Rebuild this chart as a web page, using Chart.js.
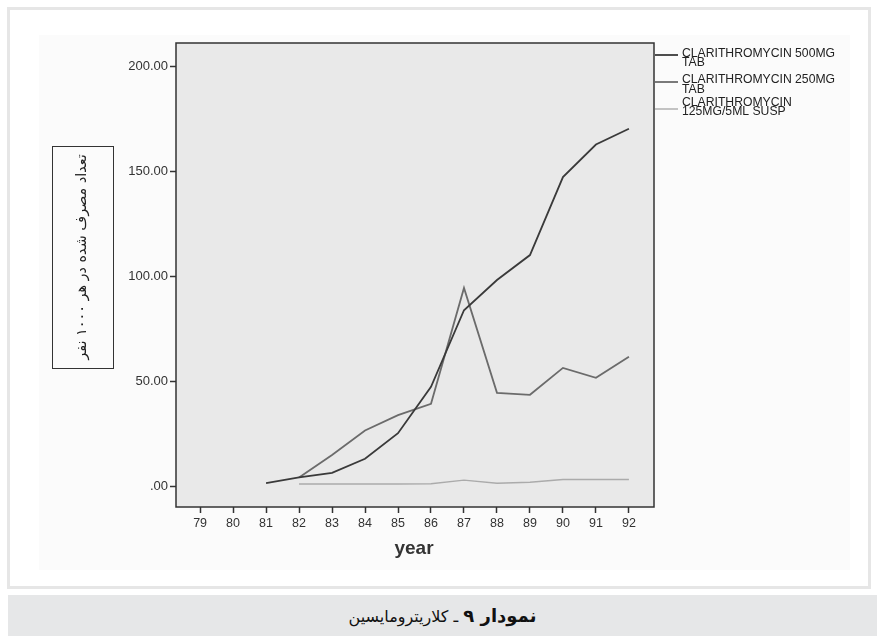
<!DOCTYPE html>
<html lang="fa">
<head>
    <meta charset="UTF-8">
    <title>Clarithromycin</title>
    <style>
        body {
            margin: 0;
            padding: 0;
            width: 877px;
            height: 636px;
            background-color: #ffffff;
            position: relative;
            overflow: hidden;
        }

        .frame {
            position: absolute;
            left: 7px;
            top: 7px;
            width: 858px;
            height: 576px;
            border: 3px solid #e6e6e6;
        }

        .caption {
            position: absolute;
            left: 8px;
            top: 595px;
            width: 869px;
            height: 41px;
            background-color: #e6e7e8;
            direction: rtl;
            text-align: center;
            line-height: 41px;
            font-family: "DejaVu Sans", sans-serif;
            font-size: 16px;
            color: #111;
        }

        .caption b {
            font-size: 18px;
        }

        canvas {
            position: absolute;
            left: 0;
            top: 0;
        }
    </style>
</head>
<body>
    <div class="frame"></div>
    <canvas id="myChart" width="877" height="636"></canvas>
    <div class="caption"><b>نمودار ۹</b> ـ کلاریترومایسین</div>

    <script src="https://cdn.jsdelivr.net/npm/chart.js"></script>
    <script>
        const years = [79, 80, 81, 82, 83, 84, 85, 86, 87, 88, 89, 90, 91, 92];
        const tab500 = [null, null, 1.6, 4.3, 6.5, 13.2, 25.4, 47.5, 84, 98.4, 110.3, 147.5, 163, 170.5];
        const tab250 = [null, null, null, 4.3, 15, 26.7, 34, 39.4, 94.6, 44.6, 43.7, 56.5, 51.8, 61.8];
        const susp125 = [null, null, null, 1.2, 1.2, 1.2, 1.2, 1.3, 3, 1.5, 2, 3.3, 3.3, 3.3];
        const yTicks = [0, 50, 100, 150, 200];
        const seriesNames = [
            ['CLARITHROMYCIN 500MG', 'TAB'],
            ['CLARITHROMYCIN 250MG', 'TAB'],
            ['CLARITHROMYCIN', '125MG/5ML SUSP']
        ];
        const yTitle = 'تعداد مصرف شده در هر ۱۰۰۰ نفر';
        const xTitle = 'year';

        function points(values) {
            return years.map((yr, i) => ({ x: yr, y: values[i] }));
        }

        // extra drawing: backgrounds, plot box, y title box, legend, x title
        const decor = {
            id: 'decor',
            beforeDraw(chart) {
                const c = chart.ctx;
                const a = chart.chartArea;
                c.save();
                c.fillStyle = '#fbfbfb';
                c.fillRect(39, 35, 811, 535);
                c.fillStyle = '#e9e9e9';
                c.fillRect(a.left, a.top, a.right - a.left, a.bottom - a.top);
                c.restore();
            },
            afterDraw(chart) {
                const c = chart.ctx;
                const a = chart.chartArea;
                c.save();
                c.strokeStyle = '#333';
                c.lineWidth = 1.5;
                c.strokeRect(a.left, a.top, a.right - a.left, a.bottom - a.top);

                // y title in a box
                c.lineWidth = 1;
                c.strokeRect(52.5, 146.5, 61, 222);
                c.translate(82, 257);
                c.rotate(-Math.PI / 2);
                c.direction = 'rtl';
                c.font = '13px "DejaVu Sans"';
                let w = c.measureText(yTitle).width;
                let fs = 13 * 206 / w;
                c.font = fs.toFixed(1) + 'px "DejaVu Sans"';
                c.fillStyle = '#222';
                c.textAlign = 'center';
                c.textBaseline = 'middle';
                c.fillText(yTitle, 0, 0);
                c.restore();

                // x title
                c.save();
                c.font = 'bold 19px Arial, "Liberation Sans"';
                c.fillStyle = '#333';
                c.textAlign = 'center';
                c.textBaseline = 'middle';
                c.fillText(xTitle, 414, 549);
                c.restore();

                // legend outside the box
                c.save();
                const lineY = [55, 82, 109];
                const textY = [[54, 63], [80, 90], [103, 112]];
                c.font = '12.2px Arial, "Liberation Sans"';
                c.fillStyle = '#222';
                c.textBaseline = 'middle';
                chart.data.datasets.forEach((ds, i) => {
                    c.strokeStyle = ds.borderColor;
                    c.lineWidth = ds.borderWidth;
                    c.beginPath();
                    c.moveTo(a.right + 1, lineY[i]);
                    c.lineTo(678, lineY[i]);
                    c.stroke();
                    ds.label.forEach((t, j) => c.fillText(t, 682, textY[i][j]));
                });
                c.restore();
            }
        };

        const ctx = document.getElementById('myChart').getContext('2d');

        const chart = new Chart(ctx, {
            type: 'line',
            data: {
                datasets: [
                    {
                        label: seriesNames[0],
                        data: points(tab500),
                        borderColor: '#3a3a3a',
                        borderWidth: 1.8,
                    },
                    {
                        label: seriesNames[1],
                        data: points(tab250),
                        borderColor: '#6b6b6b',
                        borderWidth: 1.8,
                    },
                    {
                        label: seriesNames[2],
                        data: points(susp125),
                        borderColor: '#ababab',
                        borderWidth: 1.4,
                    }
                ]
            },
            options: {
                responsive: false,
                animation: false,
                spanGaps: false,
                pointRadius: 0,
                tension: 0,
                layout: {
                    padding: { left: 0, top: 43, right: 223, bottom: 0 }
                },
                plugins: {
                    legend: { display: false },
                    tooltip: { enabled: false }
                },
                scales: {
                    x: {
                        type: 'linear',
                        min: 78.27,
                        max: 92.76,
                        afterFit: (s) => { s.height = 129; },
                        afterBuildTicks: (s) => { s.ticks = years.map(v => ({ value: v })); },
                        border: { display: false },
                        grid: {
                            drawOnChartArea: false,
                            tickLength: 6,
                            tickColor: '#333',
                            tickWidth: 1.5
                        },
                        ticks: {
                            color: '#333',
                            font: { family: 'Arial, "Liberation Sans"', size: 12.5 },
                            padding: 3,
                            maxRotation: 0,
                            autoSkip: false,
                            callback: (v) => String(v)
                        }
                    },
                    y: {
                        min: -9.8,
                        max: 211.4,
                        afterFit: (s) => { s.width = 176; },
                        afterBuildTicks: (s) => { s.ticks = yTicks.map(v => ({ value: v })); },
                        border: { display: false },
                        grid: {
                            drawOnChartArea: false,
                            tickLength: 6,
                            tickColor: '#333',
                            tickWidth: 1.5
                        },
                        ticks: {
                            color: '#333',
                            font: { family: 'Arial, "Liberation Sans"', size: 13 },
                            padding: 2,
                            callback: (v) => v === 0 ? '.00' : v.toFixed(2)
                        }
                    }
                }
            },
            plugins: [decor]
        });
    </script>
</body>
</html>
